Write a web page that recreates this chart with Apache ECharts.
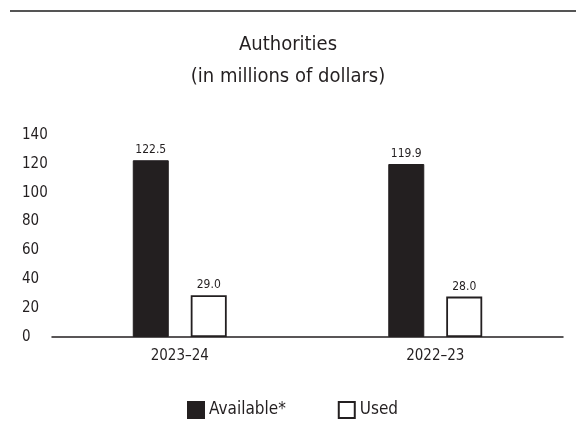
<!DOCTYPE html>
<html>
<head>
<meta charset="utf-8">
<script src="https://cdn.jsdelivr.net/npm/echarts@6/dist/echarts.min.js"></script>
<style>
html,body{margin:0;padding:0;background:#fff;}
#chart{width:576px;height:434px;}
</style>
</head>
<body>
<div id="chart"></div>
<script>
var categories = ['2023–24', '2022–23'];
var availableValues = [122.5, 119.9];
var usedValues = [29.0, 28.0];
var yTicks = [0, 20, 40, 60, 80, 100, 120, 140];

var FONT = "'Liberation Sans Narrow', 'DejaVu Sans Condensed', 'Roboto Condensed', sans-serif";
var INK = '#231f20';

var chart = echarts.init(document.getElementById('chart'));
chart.setOption({
  animation: false,
  textStyle: { fontFamily: FONT, color: INK },
  title: {
    text: 'Authorities\n(in millions of dollars)',
    left: 'center',
    top: 24,
    textStyle: { fontFamily: FONT, fontSize: 20, fontWeight: 'normal', color: INK, lineHeight: 32 }
  },
  graphic: [{
    type: 'line',
    shape: { x1: 10, y1: 11, x2: 576, y2: 11 },
    style: { stroke: '#555', lineWidth: 2 }
  }],
  legend: {
    left: 182,
    top: 396,
    itemWidth: 16,
    itemHeight: 16,
    itemGap: 52,
    icon: 'rect',
    textStyle: { fontFamily: FONT, fontSize: 17, color: INK },
    data: ['Available*', 'Used']
  },
  grid: { left: 52, right: 13, top: 135, bottom: 97, containLabel: false },
  xAxis: {
    type: 'category',
    data: categories,
    axisLine: { lineStyle: { color: INK, width: 1.5 } },
    axisTick: { show: false },
    axisLabel: { fontFamily: FONT, fontSize: 15, color: INK, margin: 12 }
  },
  yAxis: {
    type: 'value',
    min: yTicks[0],
    max: yTicks[yTicks.length - 1],
    interval: 20,
    axisLine: { show: false },
    axisTick: { show: false },
    splitLine: { show: false },
    axisLabel: { fontFamily: FONT, fontSize: 15, color: INK, align: 'left', margin: 30 }
  },
  series: [{
    name: 'Available*',
    type: 'bar',
    data: availableValues,
    barWidth: 36,
    barGap: '61%',
    itemStyle: { color: INK, borderColor: INK, borderWidth: 1 },
    label: { show: true, position: 'top', distance: 4, fontFamily: FONT, fontSize: 12, color: INK,
      formatter: function (p) { return p.value.toFixed(1); } }
  }, {
    name: 'Used',
    type: 'bar',
    data: usedValues,
    barWidth: 36,
    itemStyle: { color: '#fff', borderColor: INK, borderWidth: 1.8 },
    label: { show: true, position: 'top', distance: 4, fontFamily: FONT, fontSize: 12, color: INK,
      formatter: function (p) { return p.value.toFixed(1); } }
  }]
});
</script>
</body>
</html>
